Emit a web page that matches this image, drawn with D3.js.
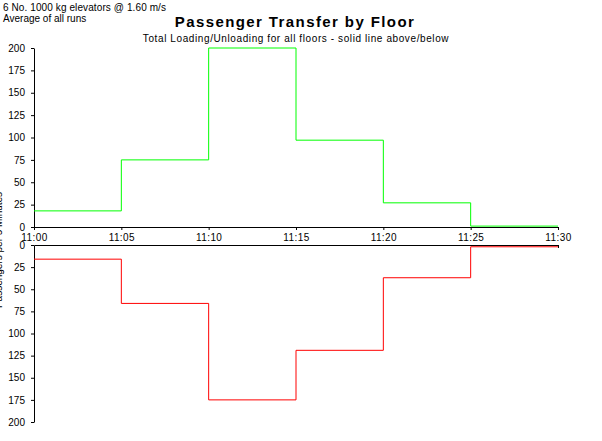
<!DOCTYPE html>
<html>
<head>
<meta charset="utf-8">
<script src="https://cdn.jsdelivr.net/npm/d3@7"></script>
<style>
  body { margin: 0; background: #fff; }
  svg { font-family: "Liberation Sans", Arial, sans-serif; }
  .axis path, .axis line { stroke: #000; }
  .axis text { font-size: 10px; fill: #000; }
</style>
</head>
<body>
<div id="chart"></div>
<script>
// time slots (5 minute intervals) and passenger counts
const timeLabels = ["11:00", "11:05", "11:10", "11:15", "11:20", "11:25", "11:30"];
const loading = [18, 75, 200, 97, 27, 1];      // above the axis
const unloading = [16, 66, 175, 119, 37, 2];   // below the axis
const yTicks = [0, 25, 50, 75, 100, 125, 150, 175, 200];

const width = 602, height = 441;
const svg = d3.select("#chart").append("svg")
    .attr("width", width)
    .attr("height", height);

const parse = d3.timeParse("%H:%M");
const times = timeLabels.map(parse);

// shared x scale
const x = d3.scaleTime()
    .domain([times[0], times[times.length - 1]])
    .range([34, 558]);

// upper panel grows upward, lower panel grows downward
const yUp = d3.scaleLinear().domain([0, 200]).range([227, 48]);
const yDown = d3.scaleLinear().domain([0, 200]).range([245, 422]);

// header texts
svg.append("text").attr("x", 3).attr("y", 11)
    .attr("font-size", 10).attr("letter-spacing", 0.1)
    .text("6 No. 1000 kg elevators @ 1.60 m/s");
svg.append("text").attr("x", 3).attr("y", 22)
    .attr("font-size", 10)
    .text("Average of all runs");
svg.append("text").attr("x", 295).attr("y", 27)
    .attr("text-anchor", "middle")
    .attr("font-size", 15).attr("font-weight", "bold")
    .attr("letter-spacing", 1.4)
    .text("Passenger Transfer by Floor");
svg.append("text").attr("x", 296).attr("y", 42)
    .attr("text-anchor", "middle")
    .attr("font-size", 10).attr("letter-spacing", 0.6)
    .text("Total Loading/Unloading for all floors - solid line above/below");

// y axis title, mostly clipped at the left edge
svg.append("text")
    .attr("transform", "translate(2,250) rotate(-90)")
    .attr("text-anchor", "middle")
    .attr("font-size", 10)
    .text("Passengers per 5 Minutes");

// axes
const fmt = d3.timeFormat("%H:%M");
svg.append("g").attr("class", "axis")
    .attr("transform", "translate(0,227)")
    .call(d3.axisBottom(x).tickValues(times).tickFormat(fmt).tickSize(3).tickSizeOuter(0))
    .call(g => g.selectAll("text").attr("dy", "0.8em").attr("letter-spacing", 0.4));

svg.append("g").attr("class", "axis")
    .attr("transform", "translate(0,245)")
    .call(d3.axisBottom(x).tickValues([times[times.length - 1]]).tickSize(3).tickSizeOuter(0))
    .call(g => g.selectAll("text").remove());

svg.append("g").attr("class", "axis")
    .attr("transform", "translate(34,0)")
    .call(d3.axisLeft(yUp).tickValues(yTicks).tickSize(3).tickSizeOuter(0).tickPadding(6));

svg.append("g").attr("class", "axis")
    .attr("transform", "translate(34,0)")
    .call(d3.axisLeft(yDown).tickValues(yTicks).tickSize(3).tickSizeOuter(0).tickPadding(6));

// step lines
function steps(values) {
  return times.map((t, i) => ({ t, v: i < values.length ? values[i] : values[values.length - 1] }));
}

const lineUp = d3.line().curve(d3.curveStepAfter)
    .x(d => x(d.t)).y(d => yUp(d.v));
const lineDown = d3.line().curve(d3.curveStepAfter)
    .x(d => x(d.t)).y(d => yDown(d.v));

svg.append("path")
    .attr("d", lineUp(steps(loading)))
    .attr("fill", "none").attr("stroke", "#00ff00").attr("stroke-width", 1);

svg.append("path")
    .attr("d", lineDown(steps(unloading)))
    .attr("fill", "none").attr("stroke", "#ff0000").attr("stroke-width", 1);
</script>
</body>
</html>
